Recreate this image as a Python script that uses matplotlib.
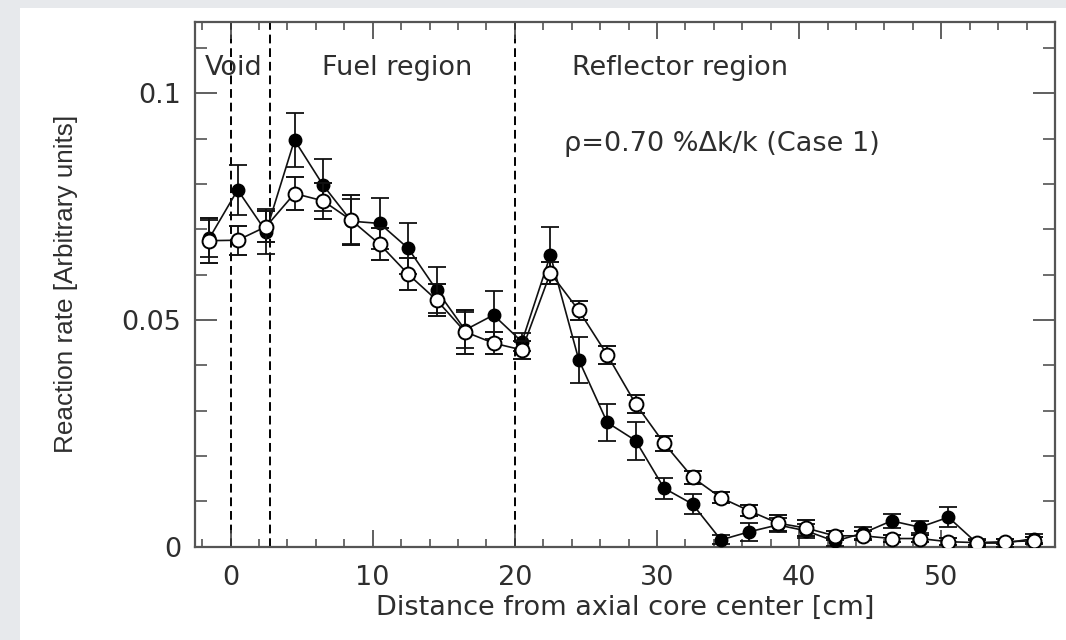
import matplotlib
matplotlib.use("Agg")
import matplotlib.pyplot as plt
from matplotlib.patches import Rectangle
from matplotlib.ticker import MultipleLocator

# ---- data ----
positions = [-1.5, 0.5, 2.5, 4.5, 6.5, 8.5, 10.5, 12.5, 14.5, 16.5,
             18.5, 20.5, 22.5, 24.5, 26.5, 28.5, 30.5, 32.5, 34.5, 36.5,
             38.5, 40.5, 42.5, 44.5, 46.5, 48.5, 50.5, 52.5, 54.5, 56.5]

measured = [0.0680, 0.0787, 0.0695, 0.0897, 0.0798, 0.0718, 0.0713, 0.0658, 0.0566, 0.0478,
            0.0511, 0.0452, 0.0643, 0.0412, 0.0274, 0.0234, 0.0129, 0.0094, 0.0015, 0.0033,
            0.0048, 0.0035, 0.0012, 0.0030, 0.0057, 0.0043, 0.0065, 0.0008, 0.0008, 0.0018]
measured_err = [0.0040, 0.0055, 0.0050, 0.0060, 0.0058, 0.0050, 0.0057, 0.0056, 0.0050, 0.0040,
                0.0052, 0.0020, 0.0063, 0.0050, 0.0040, 0.0042, 0.0023, 0.0022, 0.0010, 0.0020,
                0.0015, 0.0015, 0.0010, 0.0013, 0.0016, 0.0013, 0.0022, 0.0008, 0.0008, 0.0010]

calculated = [0.0675, 0.0676, 0.0706, 0.0779, 0.0763, 0.0720, 0.0667, 0.0601, 0.0544, 0.0474,
              0.0449, 0.0434, 0.0604, 0.0521, 0.0423, 0.0315, 0.0228, 0.0153, 0.0108, 0.0079,
              0.0052, 0.0041, 0.0024, 0.0024, 0.0018, 0.0018, 0.0011, 0.0009, 0.0011, 0.0013]
calculated_err = [0.0050, 0.0032, 0.0035, 0.0037, 0.0040, 0.0055, 0.0035, 0.0035, 0.0035, 0.0048,
                  0.0025, 0.0020, 0.0025, 0.0022, 0.0020, 0.0020, 0.0017, 0.0015, 0.0012, 0.0012,
                  0.0018, 0.0017, 0.0010, 0.0010, 0.0008, 0.0008, 0.0008, 0.0006, 0.0006, 0.0008]

boundaries = [0.0, 2.75, 20.0]
region_labels = ["Void", "Fuel region", "Reflector region"]
region_label_x = [0.25, 11.7, 31.6]
case_text = "\u03c1=0.70 %\u0394k/k (Case 1)"
x_ticks = [0, 10, 20, 30, 40, 50]
y_ticks = [0, 0.05, 0.1]
y_tick_labels = ["0", "0.05", "0.1"]

# ---- figure ----
W, H = 1066, 640
fig = plt.figure(figsize=(W / 100, H / 100), dpi=100, facecolor="#e7e9ec")
fig.patches.append(Rectangle((20 / W, 0), 1 - 20 / W, 1 - 8 / H,
                             transform=fig.transFigure, facecolor="white",
                             edgecolor="none", zorder=-10))

ax = fig.add_axes([195 / W, 1 - 546.7 / H, (1055 - 195) / W, (546.7 - 21.7) / H])
ax.set_zorder(5)
ax.set_facecolor("white")
ax.set_xlim(-2.5, 58)
ax.set_ylim(0, 0.1158)

txt = "#2e2e2e"
fs = 19.5

for b in boundaries:
    ax.axvline(b, color="black", lw=1.4, ls=(0, (4.5, 2.5)), zorder=1)

ax.errorbar(positions, measured, yerr=measured_err, fmt="-o", color="#111111",
            mfc="black", mec="black", ms=9, lw=1.2, elinewidth=1.3,
            capsize=6.5, capthick=1.3, zorder=3)
ax.errorbar(positions, calculated, yerr=calculated_err, fmt="-o", color="#111111",
            mfc="white", mec="black", mew=1.4, ms=10, lw=1.2, elinewidth=1.3,
            capsize=6.5, capthick=1.3, zorder=4)

for lx, lt in zip(region_label_x, region_labels):
    ax.text(lx, 0.1056, lt, ha="center", va="center", fontsize=fs,
            family="DejaVu Sans", color=txt)
ax.text(23.45, 0.0888, case_text, ha="left", va="center", fontsize=fs,
        family="DejaVu Sans", color=txt)

ax.set_xticks(x_ticks)
ax.set_xticklabels([str(t) for t in x_ticks])
ax.set_yticks(y_ticks)
ax.set_yticklabels(y_tick_labels)
ax.xaxis.set_minor_locator(MultipleLocator(2))
ax.yaxis.set_minor_locator(MultipleLocator(0.01))

ax.tick_params(axis="x", which="major", direction="in", length=12, width=1.2,
               top=True, bottom=True, pad=13, labelsize=fs, labelcolor=txt, color="#444")
ax.tick_params(axis="x", which="minor", direction="in", length=6, width=1.1,
               top=True, bottom=True, color="#444")
ax.tick_params(axis="y", which="major", direction="in", length=16, width=1.2,
               left=True, right=True, pad=10, labelsize=fs, labelcolor=txt, color="#444")
ax.tick_params(axis="y", which="minor", direction="in", length=8.5, width=1.1,
               left=True, right=True, color="#444")
for lab in ax.get_xticklabels() + ax.get_yticklabels():
    lab.set_family("DejaVu Sans")

for s in ax.spines.values():
    s.set_color("#555555")
    s.set_linewidth(1.6)

ax.set_xlabel("Distance from axial core center [cm]", fontsize=fs,
              family="DejaVu Sans", color=txt, labelpad=3)
ax.set_ylabel("Reaction rate [Arbitrary units]", fontsize=18.8,
              family="Liberation Sans", color=txt, labelpad=31)

fig.savefig("out.png", dpi=100, facecolor=fig.get_facecolor())
